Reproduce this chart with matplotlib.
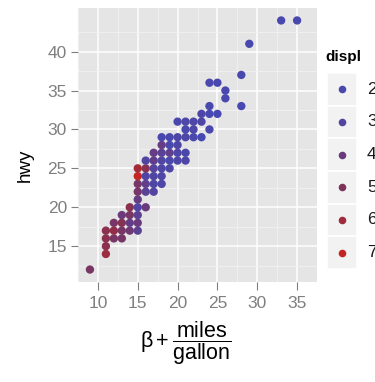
import matplotlib
matplotlib.use("Agg")
import matplotlib.pyplot as plt
from matplotlib.colors import LinearSegmentedColormap, Normalize
from matplotlib.patches import Rectangle
import numpy as np

plt.rcParams["font.family"] = ["Liberation Sans", "DejaVu Sans"]
plt.rcParams["mathtext.fontset"] = "custom"
plt.rcParams["mathtext.rm"] = "Liberation Sans"
plt.rcParams["mathtext.it"] = "Liberation Sans:italic"
plt.rcParams["mathtext.bf"] = "Liberation Sans:bold"
plt.rcParams["mathtext.default"] = "regular"

# city mpg, highway mpg and engine displacement (one entry per plotted location)
cty = [9, 11, 11, 11, 11, 12, 12, 12, 13, 13, 13, 13, 14, 14, 14, 14,
       15, 15, 15, 15, 15, 15, 15, 15, 15,
       16, 16, 16, 16, 16, 16,
       17, 17, 17, 17, 17, 17,
       18, 18, 18, 18, 18, 18, 18,
       19, 19, 19, 19, 19,
       20, 20, 20, 20, 20,
       21, 21, 21, 21, 21,
       22, 22, 22,
       23, 23, 23,
       24, 24, 24, 24,
       25, 25,
       26, 26,
       28, 28,
       29, 33, 35]
hwy = [12, 14, 15, 16, 17, 16, 17, 18, 16, 17, 18, 19, 17, 18, 19, 20,
       17, 18, 19, 20, 21, 22, 23, 24, 25,
       20, 22, 23, 24, 25, 26,
       22, 23, 24, 25, 26, 27,
       23, 24, 25, 26, 27, 28, 29,
       25, 26, 27, 28, 29,
       26, 27, 28, 29, 31,
       26, 27, 29, 30, 31,
       29, 30, 31,
       29, 31, 32,
       30, 32, 33, 36,
       32, 36,
       34, 35,
       33, 37,
       41, 44, 44]
displ = [4.7, 5.9, 5.4, 5.4, 5.4, 4.7, 5.6, 4.6, 4.6, 4.7, 5.2, 4.0, 4.2, 3.7, 4.7, 5.3,
         3.4, 4.0, 3.4, 2.7, 3.8, 4.6, 4.6, 7.0, 6.2,
         4.0, 3.3, 3.6, 2.7, 5.3, 2.8,
         3.0, 2.5, 2.8, 3.1, 3.6, 3.8,
         2.5, 2.5, 2.5, 2.8, 3.3, 3.8, 1.8,
         2.5, 2.0, 3.5, 2.0, 2.0,
         2.5, 2.5, 2.5, 2.5, 2.0,
         2.5, 2.2, 2.5, 2.0, 2.4,
         2.0, 2.4, 2.4,
         1.6, 2.5, 2.5,
         1.8, 1.6, 1.8, 1.8,
         1.6, 1.8,
         1.8, 1.8,
         1.6, 1.8,
         1.9, 1.9, 1.9]

x_ticks = [10, 15, 20, 25, 30, 35]
y_ticks = [15, 20, 25, 30, 35, 40]
legend_values = [2, 3, 4, 5, 6, 7]
legend_labels = ["2", "3", "4", "5", "6", "7"]

# colour scale for displacement: muted blue -> red
cmap = LinearSegmentedColormap.from_list(
    "displ",
    [(0.00, "#4848B2"), (0.08, "#4A48AC"), (0.26, "#5244A0"),
     (0.45, "#6C3A7C"), (0.63, "#7E3459"), (0.82, "#A02B3C"), (1.00, "#C42424")])
norm = Normalize(vmin=1.6, vmax=7.0)

W, H = 375, 382
fig = plt.figure(figsize=(W / 100, H / 100), dpi=100)
fig.patch.set_facecolor("white")

# panel area in pixels
px0, px1, py0, py1 = 78, 317, 8, 282
ax = fig.add_axes([px0 / W, 1 - py1 / H, (px1 - px0) / W, (py1 - py0) / H])
ax.set_facecolor("#E5E5E5")
for s in ax.spines.values():
    s.set_visible(False)

xmin, xmax = min(cty), max(cty)
ymin, ymax = min(hwy), max(hwy)
xe, ye = (xmax - xmin) * 0.05, (ymax - ymin) * 0.05
ax.set_xlim(xmin - xe, xmax + xe)
ax.set_ylim(ymin - ye, ymax + ye)

ax.set_xticks(x_ticks)
ax.set_yticks(y_ticks)
ax.set_xticks([t + 2.5 for t in [5] + x_ticks], minor=True)
ax.set_yticks([t + 2.5 for t in [10] + y_ticks], minor=True)
ax.grid(which="minor", color="#F2F2F2", linewidth=0.6)
ax.grid(which="major", color="white", linewidth=1.1)
ax.set_axisbelow(True)
ax.tick_params(which="minor", length=0)
ax.tick_params(which="major", direction="out", length=5, width=0.8,
               color="#7F7F7F", labelcolor="#7F7F7F", labelsize=12.5, pad=3)
ax.tick_params(axis="x", which="major", length=6, pad=4)

ax.scatter(cty, hwy, c=displ, cmap=cmap, norm=norm, s=36, linewidths=0, zorder=3)

fig.text(25 / W, 1 - 165 / H, "hwy", rotation=90, ha="center", va="center",
         fontsize=13.5)
fig.text(186 / W, 1 - 343 / H,
         r"$\beta+\dfrac{\mathrm{miles}}{\mathrm{gallon}}$",
         ha="center", va="center", fontsize=15.5)

# legend drawn as keyed boxes
lx0, lx1, ly0, ly1 = 327, 357, 73, 269
lax = fig.add_axes([lx0 / W, 1 - ly1 / H, (lx1 - lx0) / W, (ly1 - ly0) / H])
lax.set_xlim(0, 1)
lax.set_ylim(len(legend_values), 0)
lax.axis("off")
for i, (v, lab) in enumerate(zip(legend_values, legend_labels)):
    lax.add_patch(Rectangle((0, i), 1, 1, facecolor="#F2F2F2",
                            edgecolor="white", linewidth=1.2))
    lax.scatter([0.5], [i + 0.5], color=cmap(norm(v)), s=30, linewidths=0, zorder=3)
    lax.text(1.33, i + 0.5, lab, ha="left", va="center", fontsize=12.5,
             color="#1A1A1A", clip_on=False)
lax.text(-0.07, -0.5, "displ", ha="left", va="center", fontsize=11,
         fontweight="bold", clip_on=False)

fig.savefig("out.png", dpi=100)
